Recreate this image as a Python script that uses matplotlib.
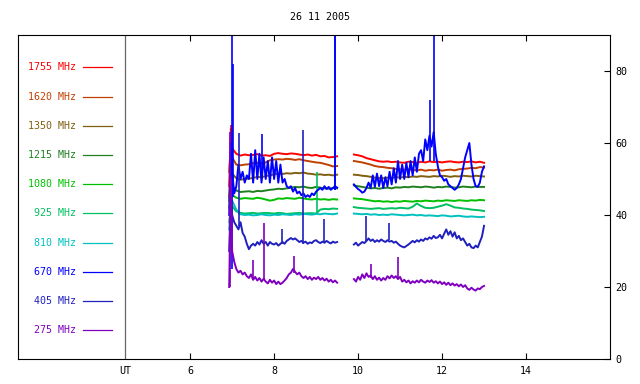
import numpy as np
import matplotlib
matplotlib.use("Agg")
import matplotlib.pyplot as plt

title = "26 11 2005"
labels = ["1755 MHz", "1620 MHz", "1350 MHz", "1215 MHz", "1080 MHz",
          "925 MHz", "810 MHz", "670 MHz", "405 MHz", "275 MHz"]
colors = ["#ff0000", "#c04000", "#806010", "#208020", "#00c000",
          "#00c060", "#00c0c0", "#0000ff", "#2020c0", "#8000c0"]

# time grids (UT hours)
t_start = [6.93, 6.97]
t1 = np.round(np.arange(7.0, 9.501, 0.1), 2)      # coarse grid, segment 1
t2 = np.round(np.arange(9.9, 13.001, 0.1), 2)     # coarse grid, segment 2
f1 = np.round(np.arange(7.0, 9.501, 0.05), 2)     # fine grid, segment 1
f2 = np.round(np.arange(9.9, 13.001, 0.05), 2)    # fine grid, segment 2

start_vals = {
    "1755 MHz": [48, 64], "1620 MHz": [52, 60], "1350 MHz": [45, 55],
    "1215 MHz": [44, 50], "1080 MHz": [42, 47], "925 MHz": [38, 42],
    "810 MHz": [36, 44], "670 MHz": [40, 60], "405 MHz": [30, 45],
    "275 MHz": [20, 50],
}

s1755_a = [58.5, 57.0, 56.5, 56.8, 56.6, 56.7, 56.9, 56.5, 56.6, 56.4, 57.0, 57.2, 57.0,
           56.9, 57.1, 57.0, 56.8, 56.6, 56.8, 56.5, 56.7, 56.3, 56.4, 56.0, 56.1, 56.3]
s1755_b = [56.8, 56.6, 56.3, 55.8, 55.5, 55.2, 54.9, 54.8, 54.9, 54.7, 54.8, 54.6, 54.5,
           54.8, 54.7, 54.5, 54.8, 54.6, 54.9, 54.7, 54.8, 54.6, 54.8, 54.9, 54.7, 54.6,
           54.8, 54.7, 54.9, 54.6, 54.8, 54.5]
s1620_a = [56.0, 54.0, 53.8, 54.0, 54.1, 54.4, 54.5, 54.4, 54.6, 55.2, 55.4, 55.5, 55.4,
           55.6, 55.5, 55.3, 55.5, 55.2, 55.0, 54.8, 54.6, 54.5, 54.2, 53.9, 53.5, 53.6]
s1620_b = [55.0, 54.8, 54.6, 54.3, 54.0, 53.6, 53.4, 53.3, 53.1, 53.0, 52.8, 52.7, 52.6,
           52.7, 52.5, 52.4, 52.6, 52.3, 52.5, 52.4, 52.6, 52.3, 52.5, 52.6, 52.4, 52.7,
           52.8, 52.9, 53.1, 53.0, 53.3, 53.2]
s1350_a = [51.5, 50.2, 49.8, 50.0, 50.1, 50.3, 50.6, 50.5, 50.8, 51.0, 51.3, 51.5, 51.4,
           51.6, 51.5, 51.7, 51.6, 51.8, 51.5, 51.4, 51.2, 51.3, 51.1, 51.2, 51.0, 51.2]
s1350_b = [51.2, 51.1, 50.9, 50.8, 50.6, 50.4, 50.3, 50.2, 50.4, 50.3, 50.5, 50.4, 50.6,
           50.5, 50.7, 50.6, 50.8, 50.7, 50.6, 50.8, 50.7, 50.9, 50.8, 50.6, 50.8, 50.7,
           50.9, 50.8, 50.7, 50.9, 50.8, 50.7]
s1215_a = [48.0, 46.8, 46.4, 46.5, 46.6, 46.4, 46.7, 46.6, 46.8, 47.0, 47.1, 47.3, 47.2,
           47.4, 47.6, 47.8, 47.7, 47.9, 47.6, 47.5, 47.8, 47.6, 47.4, 47.3, 47.5, 47.4]
s1215_b = [48.2, 48.0, 47.8, 47.6, 47.4, 47.5, 47.3, 47.5, 47.6, 47.4, 47.7, 47.6, 47.8,
           47.7, 47.9, 47.8, 47.7, 47.9, 47.8, 47.6, 47.8, 47.7, 47.9, 47.8, 47.6, 47.7,
           47.9, 47.8, 47.7, 47.9, 47.8, 47.8]
s1080_a = [45.5, 44.8, 44.5, 44.7, 44.6, 44.5, 44.8, 44.6, 44.3, 44.0, 44.2, 44.6, 44.5,
           44.7, 44.6, 44.5, 44.8, 44.6, 44.4, 44.3, 44.5, 44.3, 44.4, 44.2, 44.4, 44.3]
s1080_b = [44.6, 44.5, 44.4, 44.2, 44.0, 43.8, 43.9, 43.7, 43.8, 43.6, 43.8, 43.7, 43.9,
           43.8, 43.7, 43.9, 43.8, 44.0, 43.9, 43.8, 44.0, 43.9, 44.1, 44.0, 43.9, 44.1,
           44.0, 43.9, 44.1, 44.0, 44.2, 44.1]
s925_a = [42.5, 41.0, 40.6, 40.4, 40.5, 40.6, 40.4, 40.5, 40.6, 40.5, 40.4, 40.6, 40.5,
          40.3, 40.4, 40.5, 40.6, 40.4, 40.5, 40.5, 40.4, 41.5, 41.7, 41.6, 41.8, 41.7]
s925_b = [42.2, 42.0, 41.9, 41.8, 41.7, 41.8, 41.9, 41.7, 41.8, 41.9, 41.8, 42.0, 41.9,
          41.8, 42.3, 43.2, 42.5, 42.0, 41.9, 42.0, 42.3, 42.6, 43.0, 42.6, 42.1, 42.0,
          41.8, 41.7, 41.5, 41.4, 41.3, 41.1]
s810_a = [44.0, 41.5, 40.2, 40.0, 40.1, 39.9, 40.0, 40.2, 40.0, 39.9, 40.1, 40.0, 40.2,
          40.1, 40.0, 40.2, 40.1, 40.3, 40.2, 40.1, 40.3, 40.2, 40.4, 40.3, 40.2, 40.4]
s810_b = [40.4, 40.3, 40.2, 40.3, 40.1, 40.2, 40.0, 40.1, 40.0, 40.2, 40.1, 40.0, 39.9,
          40.0, 40.1, 39.9, 40.0, 39.8, 39.9, 39.8, 39.7, 39.9, 39.8, 39.6, 39.7, 39.8,
          39.6, 39.5, 39.6, 39.5, 39.4, 39.5]

s670_a = [52, 46, 48, 54, 50, 52, 49, 51, 50, 57, 49, 58, 50, 57, 49, 56, 50, 55, 49, 56,
          50, 55, 49, 54, 49, 50, 48, 47.5, 48, 46.5, 47.5, 46, 46.5, 45.5, 46, 45, 45.5,
          45, 46, 45.5, 46.5, 47, 47.5, 47, 48, 47.2, 47.8, 47, 47.5, 48, 47.6]
s670_b = [48.5, 47.8, 47.2, 46.8, 46.2, 46.5, 47.5, 49,
          47.5, 51, 47.8, 51.5, 48, 51, 47.5, 50.5, 48, 52, 48.5, 53, 49, 55, 50, 54,
          50, 54.5, 50.5, 55, 51, 56, 52, 57,
          58, 55, 61, 58, 62, 59, 63, 57, 53.5, 51, 50.5, 49.5, 50, 48.5, 48, 47.5,
          47, 47.5, 48.5, 50, 53, 56, 58, 60, 54, 50, 48, 47.8, 49, 52, 53.5]
s405_a = [40, 38, 37, 36, 38, 35, 34, 32, 30.5, 31.5, 32, 31.5, 32.5, 31.8, 33, 32, 32.5,
          31.5, 32.5, 32, 31.8, 32.2, 31.5, 32, 32.5, 32, 32.8, 33.2, 33.6, 33.2, 33.5, 33,
          32.5, 32.8, 32.3, 32.6, 32, 32.4, 32.2, 32.8, 33, 32.5, 32.2, 32.6, 32.3, 32.8,
          32.4, 32.1, 32.6, 32.3, 32.5]
s405_b = [31.8, 32.3, 31.5, 32, 32.5, 32.2, 32.8, 33.5, 32.8, 33.2, 32.5, 33, 32.6, 33.2,
          32.8, 32.5, 33, 32.6, 32.8, 32.3, 32.6, 32, 31.5, 31.2, 31, 31.4, 31.8, 32.3,
          32.8, 32.4, 33, 32.6, 33.2, 32.8, 33.5, 33.2, 33.8, 33.4, 34.2, 33.6, 33.8,
          34.5, 33.5, 34.8, 36, 34.5, 35.5, 34, 35.2, 33.5, 34.2, 33, 33.5, 32.5, 31.5,
          32, 31, 30.8, 31.5, 31, 32.5, 34, 37]
s275_a = [30, 27, 25, 24, 24.5, 23.5, 24, 23, 22.5, 23.5, 22, 22.8, 21.8, 22.5, 21.5, 22.3,
          21.5, 21, 22, 21.2, 21.8, 20.8, 21.5, 20.8, 21.2, 21.8, 22.5, 23.5, 24, 25, 24.2,
          23.5, 24, 23, 22.5, 23, 22.2, 22.8, 22, 22.6, 22.2, 22.8, 22, 22.5, 21.8, 22.3,
          21.5, 22, 21.3, 21.8, 21.2]
s275_b = [22.2, 21.5, 22.8, 22, 23.5, 22.5, 23.8, 22.8, 23.2, 22.2, 23, 22, 22.6, 21.8,
          22.5, 22, 23, 22.4, 23.2, 22.5, 23, 22.2, 22.8, 21.5, 22, 21.3, 21.8, 21, 21.6,
          21.2, 21.8, 21.3, 22, 21.5, 21.2, 21.8, 21.4, 21.9, 21.2, 21.6, 21, 21.5, 20.8,
          21.3, 20.6, 21.2, 20.5, 21, 20.4, 20.8, 20.2, 20.7, 20, 20.5, 19.6, 19.2, 19.8,
          19.3, 19, 19.6, 19.4, 20, 20.3]

series = {
    "1755 MHz": (t1, s1755_a, t2, s1755_b),
    "1620 MHz": (t1, s1620_a, t2, s1620_b),
    "1350 MHz": (t1, s1350_a, t2, s1350_b),
    "1215 MHz": (t1, s1215_a, t2, s1215_b),
    "1080 MHz": (t1, s1080_a, t2, s1080_b),
    "925 MHz": (t1, s925_a, t2, s925_b),
    "810 MHz": (t1, s810_a, t2, s810_b),
    "670 MHz": (f1, s670_a, f2, s670_b),
    "405 MHz": (f1, s405_a, f2, s405_b),
    "275 MHz": (f1, s275_a, f2, s275_b),
}

# short spikes: (label, time, low, high)
spikes = [
    ("1755 MHz", 6.97, 50, 65),
    ("925 MHz", 9.02, 40.5, 52),
    ("670 MHz", 6.99, 25, 90),
    ("670 MHz", 7.01, 45, 82),
    ("670 MHz", 7.72, 50, 62.5),
    ("670 MHz", 9.44, 47, 90),
    ("670 MHz", 9.45, 47, 90),
    ("670 MHz", 11.80, 55, 90),
    ("670 MHz", 11.72, 55, 72),
    ("405 MHz", 7.17, 37, 62.8),
    ("405 MHz", 8.19, 32, 36),
    ("405 MHz", 8.69, 32, 63.5),
    ("405 MHz", 9.20, 32.5, 38.9),
    ("405 MHz", 10.20, 32.8, 39.7),
    ("405 MHz", 10.73, 33, 37.8),
    ("275 MHz", 6.95, 20, 63),
    ("275 MHz", 7.50, 22, 27.5),
    ("275 MHz", 7.76, 22, 37.9),
    ("275 MHz", 8.47, 24, 28.5),
    ("275 MHz", 10.94, 22.5, 28.3),
    ("275 MHz", 10.30, 22.5, 26.5),
]

yticks = [0, 20, 40, 60, 80]
xticks = [6, 8, 10, 12, 14]
ut_pos = 4.45

plt.rcParams["font.family"] = ["DejaVu Sans Mono"]
fig = plt.figure(figsize=(6.4, 3.84), dpi=100)
ax = fig.add_axes([18 / 640, 25 / 384, 592 / 640, 324 / 384])
ax.set_xlim(1.9, 16.0)
ax.set_ylim(0, 90)

ax.axvline(ut_pos, color="#666666", lw=0.9, zorder=1)

for lab, col in zip(labels, colors):
    ta, va, tb, vb = series[lab]
    xa = np.concatenate([t_start, ta])
    ya = np.concatenate([start_vals[lab], va])
    ax.plot(xa, ya, color=col, lw=1.4, zorder=2)
    ax.plot(tb, vb, color=col, lw=1.4, zorder=2)
    for sl, st, lo, hi in spikes:
        if sl == lab:
            ax.vlines(st, lo, hi, color=col, lw=1.2, zorder=2)

# legend panel on the left
for i, (lab, col) in enumerate(zip(labels, colors)):
    yf = 0.900 - i * 0.0901
    ax.text(0.098, yf, lab, transform=ax.transAxes, color=col, fontsize=7.2,
            ha="right", va="center")
    ax.plot([0.110, 0.159], [yf, yf], transform=ax.transAxes, color=col, lw=0.9)

ax.set_xticks(xticks + [ut_pos])
ax.set_xticklabels([str(x) for x in xticks] + ["UT"])
ax.tick_params(axis="x", direction="in", length=4, width=0.8, top=True,
               labelsize=7.2, pad=5)
for tk in ax.xaxis.get_major_ticks():
    if tk.get_loc() == ut_pos:
        tk.tick1line.set_visible(False)
        tk.tick2line.set_visible(False)
ax.yaxis.tick_right()
ax.set_yticks(yticks)
ax.tick_params(axis="y", direction="in", length=4, width=0.8, labelsize=7.2,
               pad=4, left=False, right=True)
for sp in ax.spines.values():
    sp.set_linewidth(0.8)

fig.text(0.5, 1 - 17 / 384, title, ha="center", va="center", fontsize=7.2)

fig.savefig("out.png", dpi=100)
